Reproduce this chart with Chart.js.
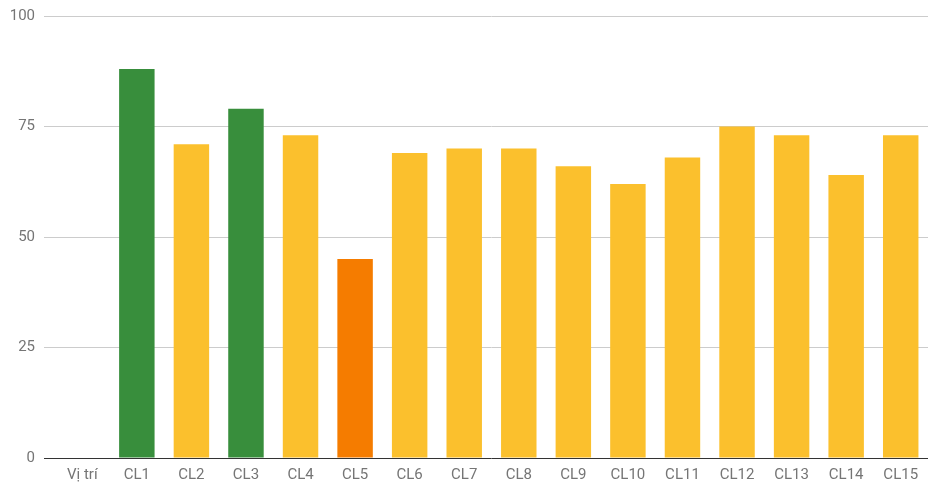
<!DOCTYPE html>
<html>
<head>
<meta charset="utf-8">
<script src="https://cdn.jsdelivr.net/npm/chart.js@4"></script>
<style>
  html, body { margin: 0; padding: 0; background: #fff; }
  #wrap { width: 930px; height: 486px; }
</style>
</head>
<body>
<div id="wrap"><canvas id="chart"></canvas></div>
<script>
// categories along the x axis
var categories = ['Vị trí', 'CL1', 'CL2', 'CL3', 'CL4', 'CL5', 'CL6', 'CL7', 'CL8', 'CL9', 'CL10', 'CL11', 'CL12', 'CL13', 'CL14', 'CL15'];
// bar values (first slot is the empty "Vị trí" column)
var values = [null, 88, 71, 79, 73, 45, 69, 70, 70, 66, 62, 68, 75, 73, 64, 73];
// colour group of each bar: g = green, y = yellow, o = orange
var groups = ['y', 'g', 'y', 'g', 'y', 'o', 'y', 'y', 'y', 'y', 'y', 'y', 'y', 'y', 'y', 'y'];
var yTicks = [0, 25, 50, 75, 100];

var palette = { g: '#388E3C', y: '#FBC02D', o: '#F57C00' };

document.addEventListener("DOMContentLoaded", function () {
    var ctx = document.getElementById('chart');

    new Chart(ctx, {
        type: 'bar',
        data: {
            labels: categories,
            datasets: [{
                data: values,
                backgroundColor: groups.map(function (g) { return palette[g]; }),
                borderWidth: 0,
                barPercentage: 0.65,
                categoryPercentage: 1
            }]
        },
        options: {
            responsive: true,
            maintainAspectRatio: false,
            animation: false,
            layout: { padding: { top: 0, right: 2, bottom: 0, left: 0 } },
            plugins: {
                legend: { display: false },
                tooltip: { enabled: false }
            },
            scales: {
                x: {
                    afterFit: function (scale) { scale.height = 28; },
                    grid: { display: false, drawTicks: false, tickLength: 0 },
                    border: { display: false },
                    ticks: {
                        color: '#757575',
                        padding: 8,
                        font: { family: 'Roboto', size: 15 }
                    }
                },
                y: {
                    min: 0,
                    max: 100,
                    afterBuildTicks: function (scale) {
                        scale.ticks = yTicks.map(function (v) { return { value: v }; });
                    },
                    afterFit: function (scale) {
                        scale.width = 55;
                        scale.paddingTop = 16;
                        scale.paddingBottom = 0;
                    },
                    border: { display: false },
                    grid: {
                        color: function (c) { return c.tick && c.tick.value === 0 ? '#333333' : '#cccccc'; },
                        lineWidth: 1,
                        drawTicks: true,
                        tickLength: 11
                    },
                    ticks: {
                        color: '#757575',
                        padding: 9,
                        font: { family: 'Roboto', size: 15 }
                    }
                }
            }
        }
    });
});
</script>
</body>
</html>
